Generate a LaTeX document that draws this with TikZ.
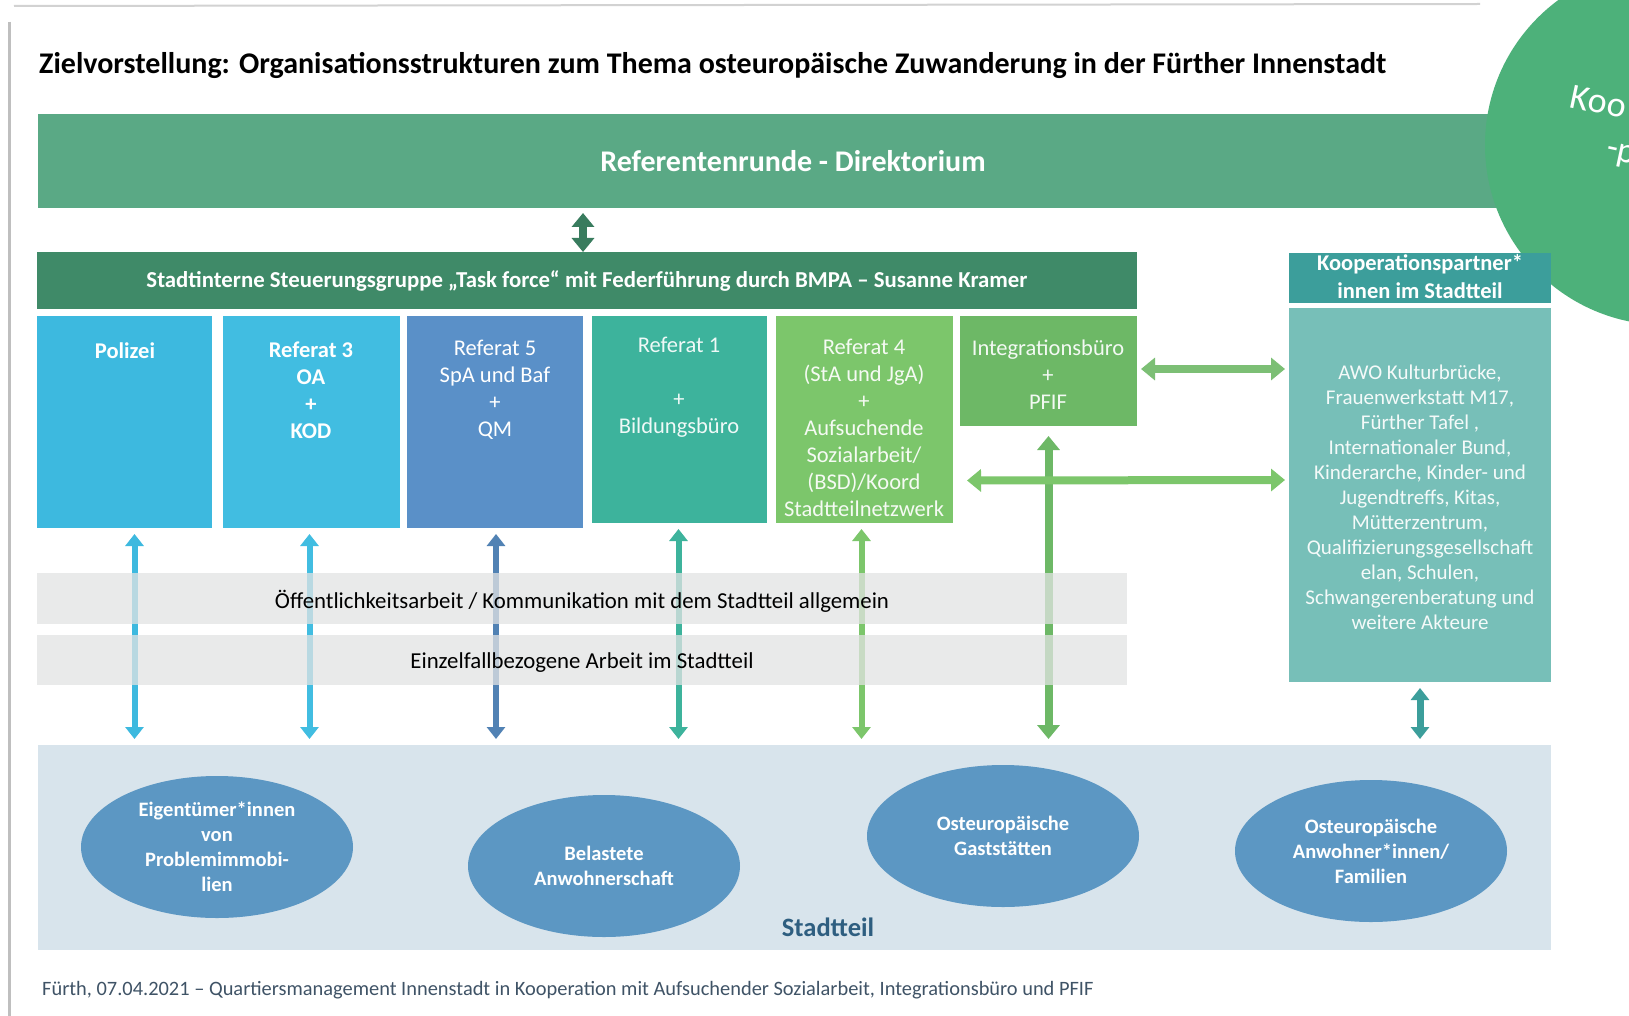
\documentclass[tikz,border=0pt]{standalone}
\usepackage{fontspec}
\setmainfont{Carlito}
\usetikzlibrary{arrows.meta,shapes.geometric,calc}
\definecolor{topgreen}{HTML}{5AA985}
\definecolor{steergreen}{HTML}{3F8A68}
\definecolor{polblue}{HTML}{3DB9DF}
\definecolor{refdreiblue}{HTML}{41BDE1}
\definecolor{reffuenfblue}{HTML}{5A90C8}
\definecolor{refeinsteal}{HTML}{3DB39C}
\definecolor{refviergreen}{HTML}{7CC66B}
\definecolor{intgreen}{HTML}{6DB866}
\definecolor{koophead}{HTML}{3C9E9B}
\definecolor{koopbody}{HTML}{77BFB8}
\definecolor{circgreen}{HTML}{4DB17A}
\definecolor{bandgray}{HTML}{E2E3E3}
\definecolor{stadtbg}{HTML}{D8E4EC}
\definecolor{ellblue}{HTML}{5C97C3}
\definecolor{stadttext}{HTML}{2E5E80}
\definecolor{foottext}{HTML}{3F5366}
\begin{document}
\begin{tikzpicture}[x=1pt,y=-1pt,
  blk/.style={rectangle, inner sep=0pt, outer sep=0pt, anchor=north west},
  boxtext/.style={text=white, align=center, inner sep=0pt, font=\fontsize{22.5}{27}\selectfont},
  boxtextb/.style={boxtext, font=\bfseries\fontsize{22.5}{27}\selectfont},
  ell/.style={ellipse, fill=ellblue, minimum width=272pt, minimum height=142pt, inner sep=0pt,
    text=white, align=center, font=\bfseries\fontsize{20.5}{25}\selectfont},
  varrow/.style={line width=6pt, arrows={Triangle[width=18pt,length=12pt]-Triangle[width=18pt,length=12pt]}},
  harrow/.style={line width=8pt, arrows={Triangle[width=22pt,length=14pt]-Triangle[width=22pt,length=14pt]}},
  bandtext/.style={text=black, font=\fontsize{22.8}{26}\selectfont, inner sep=0pt}
]
\useasboundingbox (0,0) rectangle (1629,1016);
\fill[white] (0,0) rectangle (1629,1016);
\draw[gray!50, line width=3pt] (9,22) -- (9,1016);
\draw[gray!35, line width=2pt] (14,6) -- (1480,4);

% title
\node[anchor=west, inner sep=0pt, font=\bfseries\fontsize{30}{34}\selectfont] (title) at (39,65)
  {Zielvorstellung: Organisationsstrukturen zum Thema osteuropäische Zuwanderung in der Fürther Innenstadt};

% top bar
\node[blk, fill=topgreen, minimum width=1522pt, minimum height=94pt] (topbar) at (38,114) {};
\node[text=white, font=\bfseries\fontsize{30}{34}\selectfont, inner sep=0pt] (toptext) at (793,161) {Referentenrunde - Direktorium};

% circle
\fill[circgreen] (1665,145) circle[radius=180pt];
\node[anchor=west, rotate=-12, text=white, font=\fontsize{36}{40}\selectfont, inner sep=0pt] (koo) at (1571,96) {Koo};
\node[anchor=west, rotate=-12, text=white, font=\fontsize{36}{40}\selectfont, inner sep=0pt] (koop) at (1606,152) {-p};

% steering group
\node[blk, fill=steergreen, minimum width=1100pt, minimum height=57pt] (steer) at (37,252) {};
\node[text=white, font=\bfseries\fontsize{22.8}{26}\selectfont, inner sep=0pt] (steertext) at (587,281)
  {Stadtinterne Steuerungsgruppe „Task force“ mit Federführung durch BMPA – Susanne Kramer};

% cooperation partners
\node[blk, fill=koophead, minimum width=262pt, minimum height=50pt] (koophd) at (1289,253) {};
\node[text=white, align=center, font=\bfseries\fontsize{22.5}{28}\selectfont, inner sep=0pt] (koophdtext) at (1420,277)
  {Kooperationspartner*\\innen im Stadtteil};
\node[blk, fill=koopbody, minimum width=262pt, minimum height=374pt] (koopbd) at (1289,308) {};
\node[text=white!92!koopbody, align=center, font=\fontsize{21}{25}\selectfont, inner sep=0pt] (koopbdtext) at (1420,497)
  {AWO Kulturbrücke,\\Frauenwerkstatt M17,\\Fürther Tafel ,\\Internationaler Bund,\\Kinderarche, Kinder- und\\Jugendtreffs, Kitas,\\Mütterzentrum,\\Qualifizierungsgesellschaft\\elan, Schulen,\\Schwangerenberatung und\\weitere Akteure};

% six boxes
\node[blk, fill=polblue, minimum width=175pt, minimum height=212pt] (polizei) at (37,316) {};
\node[blk, fill=refdreiblue, minimum width=177pt, minimum height=212pt] (refdrei) at (223,316) {};
\node[blk, fill=reffuenfblue, minimum width=176pt, minimum height=212pt] (reffuenf) at (407,316) {};
\node[blk, fill=refeinsteal, minimum width=175pt, minimum height=207pt] (refeins) at (592,316) {};
\node[blk, fill=refviergreen, minimum width=177pt, minimum height=207pt] (refvier) at (776,316) {};
\node[blk, fill=intgreen, minimum width=177pt, minimum height=110pt] (integ) at (960,316) {};

\node[boxtextb] (poltext) at (125,351) {Polizei};
\node[boxtextb] (refdreitext) at (311,390) {Referat 3\\OA\\+\\KOD};
\node[boxtext] (reffuenftext) at (495,390) {Referat 5\\SpA und Baf\\+\\QM};
\node[boxtext, text=white!92!refeinsteal] (refeinstext) at (679,387) {Referat 1\\[27pt]+\\Bildungsbüro};
\node[boxtext, text=white!92!refviergreen] (refviertext) at (864,428)
  {Referat 4\\(StA und JgA)\\+\\Aufsuchende\\Sozialarbeit/\\(BSD)/Koord\\Stadtteilnetzwerk};
\node[boxtext, text=white!92!intgreen] (integtext) at (1048,375) {Integrationsbüro\\+\\PFIF};

% Stadtteil area
\node[blk, fill=stadtbg, minimum width=1513pt, minimum height=205pt] (stadtteil) at (38,745) {};
\node[ell] (eig) at (217,847) {Eigentümer*innen\\von\\Problemimmobi-\\lien};
\node[ell] (bel) at (604,866) {Belastete\\Anwohnerschaft};
\node[ell] (gast) at (1003,836) {Osteuropäische\\Gaststätten};
\node[ell] (anw) at (1371,851) {Osteuropäische\\Anwohner*innen/\\Familien};
\node[text=stadttext, font=\bfseries\fontsize{26.5}{30}\selectfont, inner sep=0pt] (stadtlabel) at (828,927) {Stadtteil};

% arrows
\draw[harrow, steergreen!90!black] ($(topbar.south -| steer.north)+(-4,5)$) -- ($(steer.north)+(-4,0)$);
\draw[varrow, polblue] ($(polizei.south)+(10,6)$) -- ($(polizei.south |- stadtteil.north)+(10,-6)$);
\draw[varrow, refdreiblue] ($(refdrei.south)+(-2,6)$) -- ($(refdrei.south |- stadtteil.north)+(-2,-6)$);
\draw[varrow, reffuenfblue!90!black] ($(reffuenf.south)+(1,6)$) -- ($(reffuenf.south |- stadtteil.north)+(1,-6)$);
\draw[varrow, refeinsteal] ($(refeins.south)+(-1,6)$) -- ($(refeins.south |- stadtteil.north)+(-1,-6)$);
\draw[varrow, refviergreen] ($(refvier.south)+(-3,6)$) -- ($(refvier.south |- stadtteil.north)+(-3,-6)$);
\draw[harrow, intgreen] ($(integ.south)+(0,10)$) -- ($(integ.south |- stadtteil.north)+(0,-6)$);
\draw[harrow, intgreen!90!white] ($(integ.east)+(4,-2)$) -- ($(koopbd.west |- integ.east)+(-4,-2)$);
\draw[harrow, refviergreen] ($(refvier.east)+(14,61)$) -- ($(koopbd.west)+(-4,-15)$);
\draw[varrow, koophead, line width=7pt] ($(koopbd.south)+(0,6)$) -- ($(koopbd.south |- stadtteil.north)+(0,-6)$);

% gray bands (over arrows)
\node[blk, fill=bandgray, fill opacity=0.75, minimum width=1090pt, minimum height=51pt] (oeff) at (37,573) {};
\node[blk, fill=bandgray, fill opacity=0.75, minimum width=1090pt, minimum height=50pt] (einzel) at (37,635) {};
\node[bandtext] (oefftext) at (582,601) {Öffentlichkeitsarbeit / Kommunikation mit dem Stadtteil allgemein};
\node[bandtext] (einzeltext) at (582,663) {Einzelfallbezogene Arbeit im Stadtteil};

% footer
\node[anchor=west, text=foottext, font=\fontsize{20.4}{24}\selectfont, inner sep=0pt] (footer) at (42,990)
  {Fürth, 07.04.2021 – Quartiersmanagement Innenstadt in Kooperation mit Aufsuchender Sozialarbeit, Integrationsbüro und PFIF};
\end{tikzpicture}
\end{document}
